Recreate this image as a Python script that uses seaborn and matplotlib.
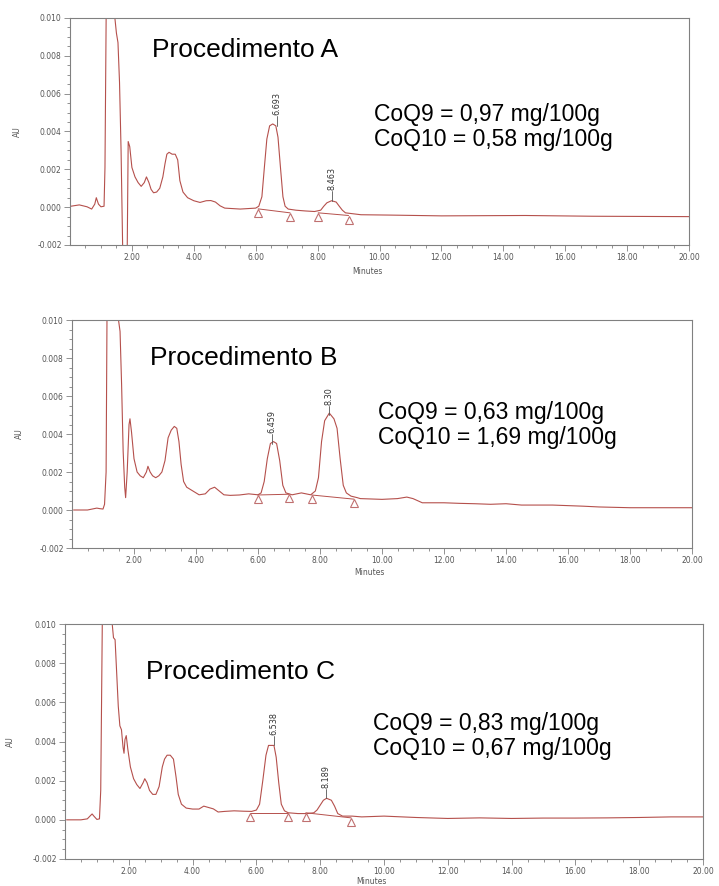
import matplotlib
matplotlib.use("Agg")
import matplotlib.pyplot as plt
import matplotlib.transforms as mtransforms
import pandas as pd
import seaborn as sns

# chromatogram A (minutes, AU)
a_t = [0.03, 0.3, 0.55, 0.7, 0.8, 0.85, 0.92, 1.0, 1.1, 1.13, 1.17, 1.2, 1.35, 1.45, 1.5,
       1.55, 1.6, 1.65, 1.7, 1.75, 1.8, 1.85, 1.88, 1.93, 2.0, 2.1, 2.2, 2.3, 2.4, 2.47,
       2.55, 2.62, 2.7, 2.8, 2.9, 3.0, 3.07, 3.13, 3.2, 3.3, 3.4, 3.48, 3.55, 3.65, 3.8,
       4.0, 4.2, 4.4, 4.55, 4.7, 4.85, 5.0, 5.5, 6.0, 6.1, 6.2, 6.28, 6.36, 6.45, 6.55,
       6.65, 6.72, 6.8, 6.88, 6.95, 7.05, 7.3, 7.6, 7.9, 8.1, 8.2, 8.3, 8.45, 8.6, 8.7,
       8.8, 8.9, 9.1, 9.4, 10.4, 12.0, 14.7, 16.9, 20.0]
a_v = [0.00005, 0.00012, 0.00002, -0.0001, 0.00016, 0.0005, 0.00016, 0.00002, 0.00005, 0.0021,
       0.0105, 0.012, 0.0125, 0.0100, 0.0092, 0.0087, 0.0066, 0.003, -0.002, -0.004, -0.004,
       -0.002, 0.00347, 0.0032, 0.0021, 0.0016, 0.0013, 0.0011, 0.0013, 0.0016, 0.0013,
       0.00094, 0.00076, 0.0008, 0.001, 0.0016, 0.0023, 0.0028, 0.0029, 0.0028, 0.0028,
       0.0025, 0.0014, 0.0008, 0.0005, 0.00034, 0.00025, 0.00034, 0.00035, 0.00027, 0.00007,
       -0.00005, -0.0001, -0.00005, 0.00005, 0.00055, 0.0021, 0.0036, 0.0043, 0.0044, 0.0043,
       0.0037, 0.0021, 0.00055, 0.00005, -0.0001, -0.00016, -0.0002, -0.00023, -0.00016,
       0.00005, 0.00023, 0.00034, 0.00027, 0.00005, -0.00016, -0.0003, -0.00034, -0.0004,
       -0.00042, -0.00046, -0.00044, -0.00048, -0.0005]

# chromatogram B
b_t = [0.05, 0.5, 0.8, 0.9, 1.0, 1.05, 1.1, 1.13, 1.2, 1.4, 1.5, 1.55, 1.6, 1.65, 1.7, 1.73,
       1.78, 1.84, 1.87, 1.92, 2.0, 2.1, 2.2, 2.3, 2.4, 2.45, 2.52, 2.6, 2.7, 2.8, 2.9, 3.0,
       3.1, 3.2, 3.3, 3.38, 3.45, 3.52, 3.6, 3.7, 3.9, 4.1, 4.3, 4.45, 4.6, 4.75, 4.9, 5.1,
       5.4, 5.7, 6.0, 6.1, 6.2, 6.3, 6.4, 6.5, 6.6, 6.7, 6.8, 6.9, 7.1, 7.4, 7.7, 7.85, 7.95,
       8.05, 8.15, 8.3, 8.45, 8.55, 8.65, 8.75, 8.85, 9.0, 9.2, 9.3, 10.0, 10.5, 10.8, 11.0,
       11.3, 12.0, 12.5, 13.0, 13.5, 14.0, 14.5, 15.5, 16.5, 17.0, 18.0, 19.0, 20.0]
b_v = [0.0, 0.0, 0.0001, 0.00007, 0.00005, 0.0003, 0.002, 0.0105, 0.012, 0.0125, 0.0100, 0.0094,
       0.0066, 0.0031, 0.0012, 0.00065, 0.002, 0.0045, 0.0048, 0.0041, 0.0027, 0.002, 0.0018,
       0.0017, 0.002, 0.0023, 0.002, 0.0018, 0.0017, 0.0018, 0.002, 0.0026, 0.0038, 0.0042,
       0.0044, 0.0043, 0.0036, 0.0024, 0.0015, 0.0012, 0.001, 0.0008, 0.00085, 0.0011, 0.0012,
       0.001, 0.0008, 0.00077, 0.00079, 0.00085, 0.0008, 0.0009, 0.0015, 0.0027, 0.0035,
       0.0036, 0.0035, 0.0026, 0.0013, 0.0009, 0.0008, 0.0009, 0.0008, 0.001, 0.0017, 0.0036,
       0.0047, 0.0051, 0.0048, 0.0043, 0.0027, 0.0013, 0.0009, 0.00073, 0.00065, 0.0006,
       0.00056, 0.0006, 0.00068, 0.0006, 0.00038, 0.00038, 0.00035, 0.00033, 0.0003, 0.00033,
       0.00026, 0.00026, 0.0002, 0.00016, 0.00012, 0.00012, 0.00012]

# chromatogram C
c_t = [0.05, 0.5, 0.7, 0.8, 0.85, 0.9, 1.0, 1.08, 1.12, 1.17, 1.25, 1.4, 1.48, 1.52, 1.57,
       1.62, 1.67, 1.72, 1.77, 1.82, 1.85, 1.88, 1.92, 1.97, 2.05, 2.15, 2.25, 2.35, 2.45,
       2.5, 2.57, 2.65, 2.75, 2.85, 2.95, 3.05, 3.12, 3.2, 3.3, 3.4, 3.48, 3.55, 3.65, 3.8,
       4.0, 4.2, 4.35, 4.5, 4.65, 4.8, 5.0, 5.3, 5.6, 5.85, 6.0, 6.1, 6.2, 6.3, 6.38, 6.48,
       6.55, 6.62, 6.7, 6.78, 6.88, 7.0, 7.3, 7.6, 7.8, 7.9, 8.0, 8.1, 8.2, 8.35, 8.45, 8.55,
       8.7, 9.0, 9.3, 10.0, 11.0, 12.0, 13.0, 14.0, 15.0, 16.0, 17.0, 18.0, 19.0, 20.0]
c_v = [0.0, 0.0, 0.00005, 0.00022, 0.0003, 0.0002, 0.00002, 0.00005, 0.0015, 0.0102, 0.0115,
       0.0115, 0.0100, 0.0093, 0.0092, 0.0075, 0.0058, 0.0048, 0.0046, 0.0037, 0.0034, 0.0041,
       0.0043, 0.0036, 0.0027, 0.0021, 0.0018, 0.0016, 0.0019, 0.0021, 0.0019, 0.0015, 0.0013,
       0.0013, 0.0017, 0.0027, 0.0031, 0.0033, 0.0033, 0.0031, 0.0022, 0.0013, 0.0008, 0.0006,
       0.00055, 0.00055, 0.0007, 0.00063, 0.00056, 0.0004, 0.00043, 0.00046, 0.00044, 0.00043,
       0.0005, 0.0008, 0.002, 0.0033, 0.0038, 0.0038, 0.0038, 0.0032, 0.0019, 0.0008, 0.00046,
       0.00036, 0.00032, 0.00032, 0.00036, 0.0005, 0.00075, 0.001, 0.0011, 0.001, 0.0007,
       0.00032, 0.00019, 0.00019, 0.00015, 0.00019, 0.00012, 0.00007, 0.0001, 0.00007, 0.00009,
       0.00009, 0.0001, 0.00012, 0.00015, 0.00015]

# integration start/end points (triangles) and peak labels
a_tri_t = [6.08, 7.11, 8.02, 9.0]
a_tri_v = [-0.00009, -0.0003, -0.0003, -0.00044]
b_tri_t = [5.99, 7.01, 7.73, 9.1]
b_tri_v = [0.00079, 0.00083, 0.00079, 0.00057]
c_tri_t = [5.8, 6.98, 7.55, 8.97]
c_tri_v = [0.00036, 0.00036, 0.00036, 0.0001]

a_pk_t = [6.693, 8.463]
a_pk_v = [0.0043, 0.00035]
a_pk_lab = ["6.693", "8.463"]
b_pk_t = [6.459, 8.30]
b_pk_v = [0.0035, 0.0050]
b_pk_lab = ["6.459", "8.30"]
c_pk_t = [6.538, 8.189]
c_pk_v = [0.0038, 0.0011]
c_pk_lab = ["6.538", "8.189"]

titles = ["Procedimento A", "Procedimento B", "Procedimento C"]
results = ["CoQ9 = 0,97 mg/100g\nCoQ10 = 0,58 mg/100g",
           "CoQ9 = 0,63 mg/100g\nCoQ10 = 1,69 mg/100g",
           "CoQ9 = 0,83 mg/100g\nCoQ10 = 0,67 mg/100g"]

xtick_vals = [2, 4, 6, 8, 10, 12, 14, 16, 18, 20]
xtick_labs = ["2.00", "4.00", "6.00", "8.00", "10.00", "12.00", "14.00", "16.00", "18.00", "20.00"]
ytick_vals = [-0.002, 0.0, 0.002, 0.004, 0.006, 0.008, 0.010]
ytick_labs = ["-0.002", "0.000", "0.002", "0.004", "0.006", "0.008", "0.010"]

W, H = 719, 886
line_col = "#b5504c"
grey = "#808080"

sns.set_theme(style="white")
plt.rcParams["font.family"] = ["DejaVu Sans"]

fig = plt.figure(figsize=(W / 100, H / 100), dpi=100)

# axes boxes in pixels: left, top, right, bottom
boxes = [(70, 18, 689, 245), (72, 320, 692, 548), (65, 624, 703, 859)]
title_pos = [(152, 50), (150, 358), (146, 672)]
result_pos = [(374, 127), (378, 425), (373, 736)]
minutes_pos = [-0.098, -0.086, -0.075]

panels = [(a_t, a_v, a_tri_t, a_tri_v, a_pk_t, a_pk_v, a_pk_lab),
          (b_t, b_v, b_tri_t, b_tri_v, b_pk_t, b_pk_v, b_pk_lab),
          (c_t, c_v, c_tri_t, c_tri_v, c_pk_t, c_pk_v, c_pk_lab)]

for i, (t, v, tri_t, tri_v, pk_t, pk_v, pk_lab) in enumerate(panels):
    l, tp, r, b = boxes[i]
    ax = fig.add_axes([l / W, 1 - b / H, (r - l) / W, (b - tp) / H])
    df = pd.DataFrame({"t": t, "v": v})
    sns.lineplot(data=df, x="t", y="v", ax=ax, color=line_col, lw=0.8, sort=False,
                 estimator=None)

    # baselines under the peaks and the triangle markers
    for k in (0, 2):
        ax.plot(tri_t[k:k + 2], tri_v[k:k + 2], color=line_col, lw=0.7)
    shifted = mtransforms.offset_copy(ax.transData, fig=fig, y=-3, units="points")
    ax.plot(tri_t, tri_v, ls="none", marker="^", ms=6, mfc="white", mec="#c07070",
            mew=0.8, transform=shifted)

    # retention time labels
    for pt, pv, lab in zip(pk_t, pk_v, pk_lab):
        ax.plot([pt, pt], [pv, pv + 0.0005], color="#555555", lw=0.6)
        txt = ax.text(pt, pv + 0.00055, lab, rotation=90, ha="center", va="bottom",
                      fontsize=6.5, color="#333333", fontstretch="condensed")
        if i == 1 and lab == "8.30":
            txt.set_clip_on(True)
            clip = plt.Rectangle((0, -0.002), 20, 0.0085, transform=ax.transData)
            txt.set_clip_path(clip)

    ax.set_xlim(0, 20)
    ax.set_ylim(-0.002, 0.010)
    ax.set_xticks(xtick_vals, xtick_labs)
    ax.set_yticks(ytick_vals, ytick_labs)
    ax.set_xticks([x / 2 for x in range(1, 40)], minor=True)
    ax.set_yticks([-0.002 + 0.0005 * k for k in range(25)], minor=True)
    ax.tick_params(which="both", direction="out", color=grey, width=0.6,
                   labelsize=5.5, labelcolor="#555555", pad=2)
    ax.tick_params(which="major", length=4)
    ax.tick_params(which="minor", length=2.5)
    ax.tick_params(axis="x", which="both", bottom=True)
    ax.tick_params(axis="y", which="both", left=True)
    for s in ax.spines.values():
        s.set_color(grey)
        s.set_linewidth(0.8)
    ax.set_ylabel("AU", fontsize=5.5, color="#555555")
    ax.yaxis.set_label_coords(-0.078, 0.5)
    ax.set_xlabel("Minutes", fontsize=5.5, color="#555555")
    ax.xaxis.set_label_coords(0.48, minutes_pos[i])

    tx, ty = title_pos[i]
    fig.text(tx / W, 1 - ty / H, titles[i], fontsize=19, family="Liberation Sans",
             ha="left", va="center", color="black")
    rx, ry = result_pos[i]
    fig.text(rx / W, 1 - ry / H, results[i], fontsize=16.5, family="Liberation Sans",
             ha="left", va="center", color="black", linespacing=1.15)

fig.savefig("out.png", dpi=100)
